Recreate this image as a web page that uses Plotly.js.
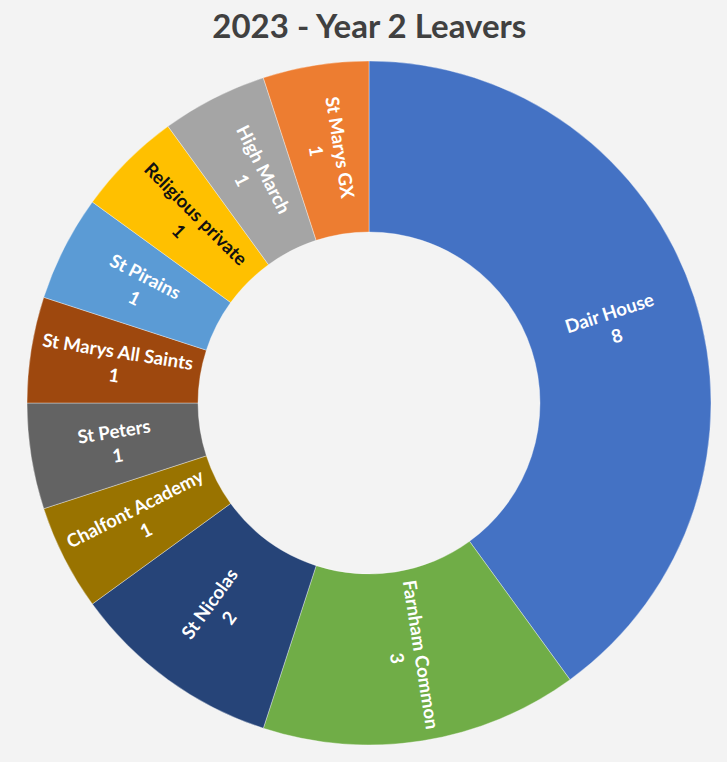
<!DOCTYPE html>
<html>
<head>
<meta charset="utf-8">
<script src="https://cdn.plot.ly/plotly-3.0.1.min.js"></script>
<style>html,body{margin:0;padding:0;background:#f3f3f3;}#chart{width:727px;height:762px;}</style>
</head>
<body>
<div id="chart"></div>
<script>
const schools = ["Dair House", "Farnham Common", "St Nicolas", "Chalfont Academy", "St Peters",
  "St Marys All Saints", "St Pirains", "Religious private", "High March", "St Marys GX"];
const leavers = [8, 3, 2, 1, 1, 1, 1, 1, 1, 1];
const chartTitle = "2023 - Year 2 Leavers";

const sliceColors = ["#4472C4", "#70AD47", "#264478", "#997300", "#636363",
  "#9E480E", "#5B9BD5", "#FFC000", "#A5A5A5", "#ED7D31"];
const labelColors = schools.map(s => s === "Religious private" ? "#111111" : "#ffffff");

const W = 727, H = 762;
const cx = 369, cy = 403, R = 342, HOLE = 0.5;
const rMid = R * (1 + HOLE) / 2;
const labelFont = { family: "Lato, 'Open Sans', sans-serif", size: 18.5, weight: "bold" };

const trace = {
  type: "pie",
  labels: schools,
  values: leavers,
  sort: false,
  direction: "clockwise",
  rotation: 0,
  hole: HOLE,
  marker: { colors: sliceColors, line: { color: "rgba(255,255,255,0.6)", width: 0.6 } },
  textinfo: "none",
  hoverinfo: "label+value",
  showlegend: false,
  domain: {
    x: [(cx - R) / W, (cx + R) / W],
    y: [(H - (cy + R)) / H, (H - (cy - R)) / H]
  }
};

// Data labels: label + value, placed at mid-ring of each slice, oriented radially
const total = leavers.reduce((a, b) => a + b, 0);
let cum = 0;
const annotations = schools.map((name, i) => {
  const midDeg = (cum + leavers[i] / 2) / total * 360;
  cum += leavers[i];
  const rad = midDeg * Math.PI / 180;
  const px = cx + rMid * Math.sin(rad);
  const py = cy - rMid * Math.cos(rad);
  let ang = midDeg - 90;
  if (ang > 90) ang -= 180;
  if (ang < -90) ang += 180;
  return {
    text: name + "<br>" + leavers[i],
    x: px / W, y: 1 - py / H,
    xref: "paper", yref: "paper",
    xanchor: "center", yanchor: "middle",
    showarrow: false,
    textangle: ang,
    align: "center",
    font: Object.assign({}, labelFont, { color: labelColors[i] })
  };
});

const layout = {
  width: W,
  height: H,
  margin: { l: 0, r: 0, t: 0, b: 0 },
  paper_bgcolor: "#f3f3f3",
  title: {
    text: "<b>" + chartTitle + "</b>",
    font: { family: "Lato, 'Open Sans', sans-serif", size: 33, color: "#404040" },
    x: 0.508, xanchor: "center",
    y: 0.965, yanchor: "middle"
  },
  annotations: annotations,
  showlegend: false
};

Plotly.newPlot("chart", [trace], layout, { displayModeBar: false, staticPlot: true });
</script>
</body>
</html>
